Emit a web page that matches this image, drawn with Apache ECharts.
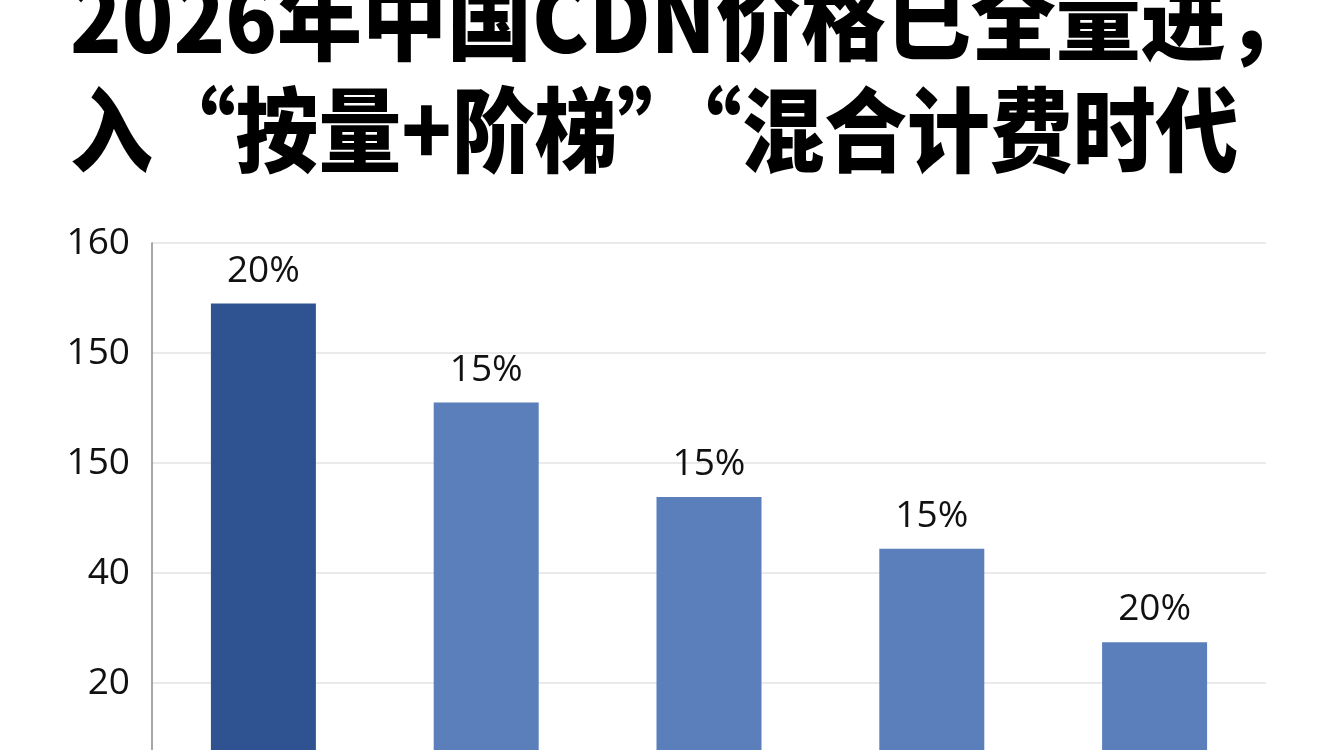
<!DOCTYPE html>
<html>
<head>
<meta charset="utf-8">
<script src="https://cdn.jsdelivr.net/npm/echarts@6/dist/echarts.min.js"></script>
<style>
html,body{margin:0;padding:0;background:#ffffff;width:1344px;height:750px;overflow:hidden;}
#chart{width:1344px;height:800px;}
</style>
</head>
<body>
<div id="chart"></div>
<script>
// Title lines (cut at the top in the reference)
var titleLines = ['2026年中国CDN价格已全量进，', '入“按量+阶梯”“混合计费时代'];
// Y tick labels from top to bottom as printed in the reference
var tickLabels = ['160', '150', '150', '40', '20'];
// Categories (not visible in the reference; cut off at the bottom)
var categories = ['A', 'B', 'C', 'D', 'E'];
// Bar heights in axis-step units (each gridline step = 1)
var values = [4.45, 3.55, 2.69, 2.22, 1.37];
// Percent labels above the bars
var barLabels = ['20%', '15%', '15%', '15%', '20%'];

var chart = echarts.init(document.getElementById('chart'));
var nTicks = tickLabels.length;
var titleFont = '900 92px "Noto Sans CJK SC"';

var option = {
  backgroundColor: '#ffffff',
  animation: false,
  graphic: [
    {
      type: 'text', x: 70, y: 18, scaleX: 0.924,
      style: {
        text: titleLines[0], font: titleFont, fill: '#000000',
        align: 'left', verticalAlign: 'middle',
        textAlign: 'left', textVerticalAlign: 'middle'
      }
    },
    {
      type: 'text', x: 70, y: 130, scaleX: 0.90,
      style: {
        text: titleLines[1], font: titleFont, fill: '#000000',
        align: 'left', verticalAlign: 'middle',
        textAlign: 'left', textVerticalAlign: 'middle'
      }
    }
  ],
  grid: { left: 152, top: 243, width: 1114, height: 550, containLabel: false },
  xAxis: {
    type: 'category',
    data: categories,
    axisLine: { show: false },
    axisTick: { show: false },
    axisLabel: { show: false }
  },
  yAxis: {
    type: 'value',
    min: 0, max: nTicks, interval: 1,
    axisLine: { show: true, lineStyle: { color: '#8a8a8a', width: 1.5 } },
    axisTick: { show: false },
    splitLine: { show: true, lineStyle: { color: '#e3e3e3', width: 1.5 } },
    axisLabel: {
      margin: 22,
      color: '#111111',
      fontSize: 37,
      fontWeight: 'normal',
      fontFamily: 'Open Sans',
      formatter: function (v) {
        if (v <= 0) return '';
        return tickLabels[nTicks - v];
      }
    }
  },
  series: [{
    type: 'bar',
    barWidth: 105,
    data: values.map(function (v, i) {
      return {
        value: v,
        itemStyle: { color: i === 0 ? '#2f5391' : '#5a7fbb' }
      };
    }),
    label: {
      show: true,
      position: 'top',
      distance: 14,
      color: '#111111',
      fontSize: 37,
      fontWeight: 'normal',
      fontFamily: 'Open Sans',
      formatter: function (p) { return barLabels[p.dataIndex]; }
    }
  }]
};
chart.setOption(option);
</script>
</body>
</html>
